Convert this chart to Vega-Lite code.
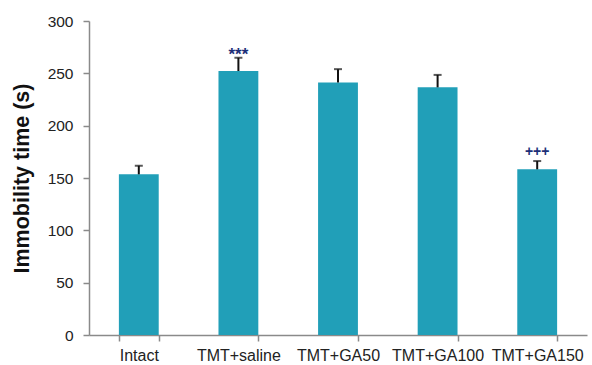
{
  "$schema": "https://vega.github.io/schema/vega-lite/v6.json",
  "autosize": "none",
  "width": 498,
  "height": 314,
  "padding": {"left": 89, "top": 21, "right": 5, "bottom": 30},
  "background": "white",
  "config": {"view": {"stroke": null}, "font": "Liberation Sans"},
  "data": {"values": [
    {"group": "Intact", "mean": 153.5, "upper": 161.7, "sig": ""},
    {"group": "TMT+saline", "mean": 252.2, "upper": 264.9, "sig": "***"},
    {"group": "TMT+GA50", "mean": 241.3, "upper": 254.0, "sig": ""},
    {"group": "TMT+GA100", "mean": 236.6, "upper": 248.5, "sig": ""},
    {"group": "TMT+GA150", "mean": 158.3, "upper": 166.2, "sig": "+++"}
  ]},
  "encoding": {
    "x": {
      "field": "group", "type": "nominal", "sort": null,
      "scale": {"paddingInner": 0.6, "paddingOuter": 0.3},
      "axis": {
        "title": null, "labelAngle": 0, "labelFontSize": 16, "labelColor": "#222",
        "domainColor": "#8a8a8a", "domainWidth": 1.5, "tickColor": "#8a8a8a", "tickWidth": 1.5,
        "tickSize": 6, "tickBand": "extent", "labelPadding": 6
      }
    }
  },
  "layer": [
    {
      "mark": {"type": "bar", "color": "#219fb8"},
      "encoding": {
        "y": {
          "field": "mean", "type": "quantitative",
          "scale": {"domain": [0, 300], "nice": false},
          "axis": {
            "title": "Immobility time (s)", "titleFontSize": 21.5, "titleFontWeight": "bold",
            "titleColor": "#111", "titlePadding": 14,
            "values": [0, 50, 100, 150, 200, 250, 300], "grid": false,
            "labelFontSize": 15.5, "labelColor": "#222", "labelPadding": 10,
            "domainColor": "#8a8a8a", "domainWidth": 1.5, "tickColor": "#8a8a8a", "tickWidth": 1.5, "tickSize": 6
          }
        }
      }
    },
    {
      "mark": {"type": "rule", "color": "#111", "strokeWidth": 2},
      "encoding": {"y": {"field": "mean", "type": "quantitative"}, "y2": {"field": "upper"}}
    },
    {
      "mark": {"type": "tick", "color": "#111", "thickness": 2, "size": 8},
      "encoding": {"y": {"field": "upper", "type": "quantitative"}}
    },
    {
      "transform": [{"filter": "datum.sig === '***'"}],
      "mark": {"type": "text", "color": "#1c2f78", "fontSize": 17, "fontWeight": "bold", "baseline": "middle", "dy": -3},
      "encoding": {"y": {"field": "upper", "type": "quantitative"}, "text": {"field": "sig"}}
    },
    {
      "transform": [{"filter": "datum.sig === '+++'"}],
      "mark": {"type": "text", "color": "#1c2f78", "fontSize": 14, "fontWeight": "bold", "baseline": "middle", "dy": -9},
      "encoding": {"y": {"field": "upper", "type": "quantitative"}, "text": {"field": "sig"}}
    }
  ]
}
